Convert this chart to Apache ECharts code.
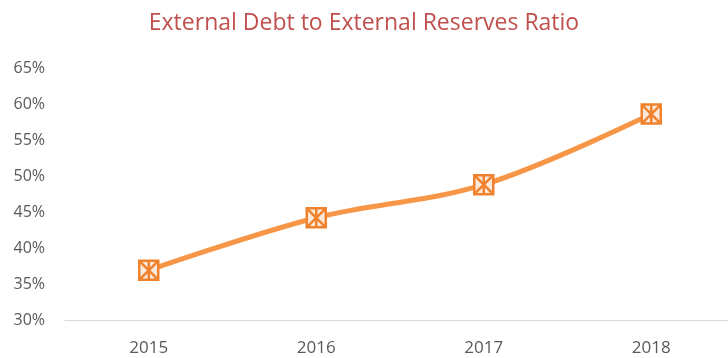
<!DOCTYPE html>
<html>
<head>
<meta charset="utf-8">
<script src="https://cdn.jsdelivr.net/npm/echarts@6/dist/echarts.min.js"></script>
<style>
  html, body { margin: 0; padding: 0; background: #fff; }
  #chart { width: 728px; height: 358px; }
</style>
</head>
<body>
<div id="chart"></div>
<script>
const years = ['2015', '2016', '2017', '2018'];
const ratio = [36.9, 44.2, 48.8, 58.6];
const yMin = 30;
const yMax = 65;
const yStep = 5;

const chart = echarts.init(document.getElementById('chart'));

// square with a cross and a vertical bar, like the excel marker
const markerPath = 'path://M0,0 L10,0 L10,10 L0,10 Z M0,0 L10,10 M10,0 L0,10 M5,0 L5,10';

const option = {
  animation: false,
  title: {
    text: 'External Debt to External Reserves Ratio',
    left: 'center',
    top: 7,
    textStyle: {
      color: '#C0504D',
      fontSize: 23,
      fontWeight: 'normal',
      fontFamily: 'Open Sans'
    }
  },
  grid: {
    left: 65,
    right: -7,
    top: 68,
    bottom: 38,
    outerBoundsMode: 'none'
  },
  xAxis: {
    type: 'category',
    data: years,
    axisLine: { lineStyle: { color: '#D9D9D9', width: 1 } },
    axisTick: { show: false },
    axisLabel: {
      color: '#595959',
      fontSize: 17,
      fontFamily: 'Open Sans',
      margin: 20
    }
  },
  yAxis: {
    type: 'value',
    min: yMin,
    max: yMax,
    interval: yStep,
    axisLine: { show: false },
    axisTick: { show: false },
    splitLine: { show: false },
    axisLabel: {
      color: '#595959',
      fontSize: 16,
      fontFamily: 'Open Sans',
      margin: 20,
      formatter: '{value}%'
    }
  },
  series: [{
    type: 'line',
    data: ratio,
    smooth: 0.35,
    symbol: markerPath,
    symbolSize: 19,
    lineStyle: { color: '#F79646', width: 5 },
    itemStyle: {
      color: '#FDE9DA',
      borderColor: '#F0822E',
      borderWidth: 2.5
    }
  }]
};

chart.setOption(option);
</script>
</body>
</html>
